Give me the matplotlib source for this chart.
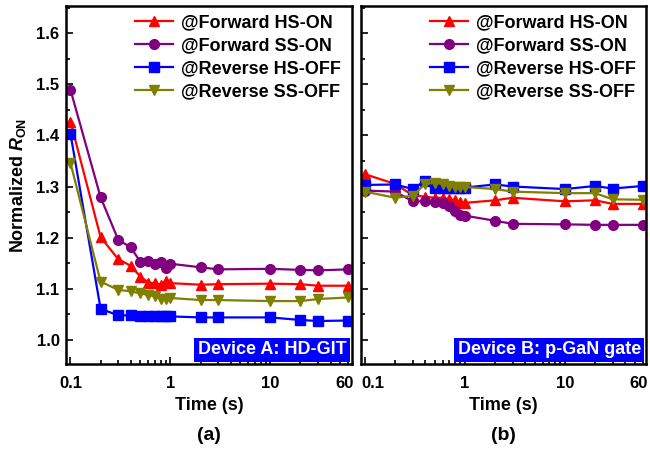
import matplotlib
matplotlib.use('Agg')
import matplotlib.pyplot as plt
from matplotlib.ticker import FixedLocator, NullFormatter, MultipleLocator
from matplotlib.transforms import ScaledTranslation

plt.rcParams['font.family'] = ['Liberation Sans', 'DejaVu Sans']
plt.rcParams['font.weight'] = 'bold'
plt.rcParams['axes.labelweight'] = 'bold'
plt.rcParams['mathtext.fontset'] = 'custom'
plt.rcParams['mathtext.rm'] = 'Liberation Sans:bold'
plt.rcParams['mathtext.it'] = 'Liberation Sans:bold:italic'
plt.rcParams['mathtext.bf'] = 'Liberation Sans:bold'

#--data (time in s, normalized Ron)
time = [0.1, 0.2, 0.3, 0.4, 0.5, 0.6, 0.7, 0.8, 0.9, 1, 2, 3, 10, 20, 30, 60]

# device A: HD-GIT
fwd_hs_a = [1.427, 1.201, 1.158, 1.145, 1.124, 1.112, 1.111, 1.108, 1.116, 1.111,
            1.108, 1.109, 1.110, 1.109, 1.106, 1.106]
fwd_ss_a = [1.489, 1.279, 1.196, 1.181, 1.153, 1.155, 1.149, 1.152, 1.140, 1.149,
            1.142, 1.138, 1.139, 1.137, 1.136, 1.138]
rev_hs_a = [1.403, 1.061, 1.048, 1.048, 1.046, 1.046, 1.046, 1.046, 1.046, 1.046,
            1.044, 1.044, 1.044, 1.039, 1.037, 1.038]
rev_ss_a = [1.346, 1.114, 1.098, 1.095, 1.091, 1.088, 1.085, 1.080, 1.080, 1.082,
            1.078, 1.078, 1.076, 1.076, 1.080, 1.083]

# device B: p-GaN gate
fwd_hs_b = [1.324, 1.305, 1.283, 1.280, 1.278, 1.278, 1.275, 1.273, 1.270, 1.268,
            1.273, 1.278, 1.271, 1.273, 1.266, 1.266]
fwd_ss_b = [1.292, 1.290, 1.271, 1.271, 1.269, 1.267, 1.262, 1.253, 1.245, 1.243,
            1.233, 1.227, 1.226, 1.225, 1.225, 1.225]
rev_hs_b = [1.303, 1.304, 1.295, 1.311, 1.298, 1.298, 1.298, 1.298, 1.298, 1.298,
            1.304, 1.300, 1.295, 1.301, 1.296, 1.301]
rev_ss_b = [1.290, 1.278, 1.282, 1.305, 1.307, 1.305, 1.301, 1.300, 1.299, 1.299,
            1.295, 1.290, 1.287, 1.287, 1.275, 1.274]

labels = ['@Forward HS-ON', '@Forward SS-ON', '@Reverse HS-OFF', '@Reverse SS-OFF']
colors = ['#FF0000', '#800080', '#0000FF', '#808000']
markers = ['^', 'o', 's', 'v']
msizes = [7.5, 7, 6.5, 7.5]

x_major = [0.1, 1, 10, 60]
x_major_lbl = ['0.1', '1', '10', '60']
x_minor = [0.2, 0.3, 0.4, 0.5, 0.6, 0.7, 0.8, 0.9,
           2, 3, 4, 5, 6, 7, 8, 9, 20, 30, 40, 50]

fig = plt.figure(figsize=(6.5, 4.53), dpi=100)
ax_a = fig.add_axes([0.1023, 0.1954, 0.4392, 0.7903])
ax_b = fig.add_axes([0.5554, 0.1954, 0.4392, 0.7903])

panels = [
    (ax_a, [fwd_hs_a, fwd_ss_a, rev_hs_a, rev_ss_a], 'Device A: HD-GIT', '(a)'),
    (ax_b, [fwd_hs_b, fwd_ss_b, rev_hs_b, rev_ss_b], 'Device B: p-GaN gate', '(b)'),
]

for ax, series, device, tag in panels:
    for ys, lbl, c, m, ms in zip(series, labels, colors, markers, msizes):
        ax.plot(time, ys, color=c, marker=m, markersize=ms, linewidth=1.6, label=lbl)

    ax.set_xscale('log')
    ax.set_xlim(0.0912, 65.5)
    ax.set_ylim(0.952, 1.652)
    ax.xaxis.set_major_locator(FixedLocator(x_major))
    ax.set_xticklabels(x_major_lbl)
    ax.xaxis.set_minor_locator(FixedLocator(x_minor))
    ax.xaxis.set_minor_formatter(NullFormatter())
    ax.yaxis.set_major_locator(MultipleLocator(0.1))
    ax.yaxis.set_minor_locator(MultipleLocator(0.05))

    ax.tick_params(which='both', direction='in', top=False, right=False, width=1.2)
    ax.tick_params(which='major', length=5)
    ax.tick_params(which='minor', length=3)
    ax.tick_params(axis='x', labelsize=12, pad=8)
    ax.tick_params(axis='y', labelsize=12, pad=5)
    for sp in ax.spines.values():
        sp.set_linewidth(1.8)

    ax.legend(loc='upper right', bbox_to_anchor=(0.99, 1.0), frameon=False,
              fontsize=13, numpoints=1, handlelength=2.1, handletextpad=0.45,
              labelspacing=0.32, borderaxespad=0.05)

    ax.text(0.98, 0.017, device, transform=ax.transAxes, ha='right', va='bottom',
            color='white', fontsize=13, fontweight='bold',
            bbox=dict(boxstyle='square,pad=0.2', facecolor='#0000FF', edgecolor='none'))

    pos = ax.get_position()
    xc = pos.x0 + pos.width / 2
    fig.text(xc, 1 - 406 / 453, 'Time (s)', ha='center', va='center', fontsize=13)
    fig.text(xc, 1 - 435 / 453, tag, ha='center', va='center', fontsize=14)

ax_a.set_ylabel(r'Normalized $\mathit{R}_{\mathrm{ON}}$', fontsize=13, labelpad=6)
ax_b.set_yticklabels([])

#--nudge edge tick labels apart where the panels meet
lbl_a = ax_a.get_xticklabels()
lbl_a[-1].set_transform(lbl_a[-1].get_transform() + ScaledTranslation(-0.04, 0, fig.dpi_scale_trans))
lbl_b = ax_b.get_xticklabels()
lbl_b[0].set_transform(lbl_b[0].get_transform() + ScaledTranslation(0.08, 0, fig.dpi_scale_trans))
lbl_b[-1].set_transform(lbl_b[-1].get_transform() + ScaledTranslation(-0.04, 0, fig.dpi_scale_trans))

fig.savefig('out.png', dpi=100)
